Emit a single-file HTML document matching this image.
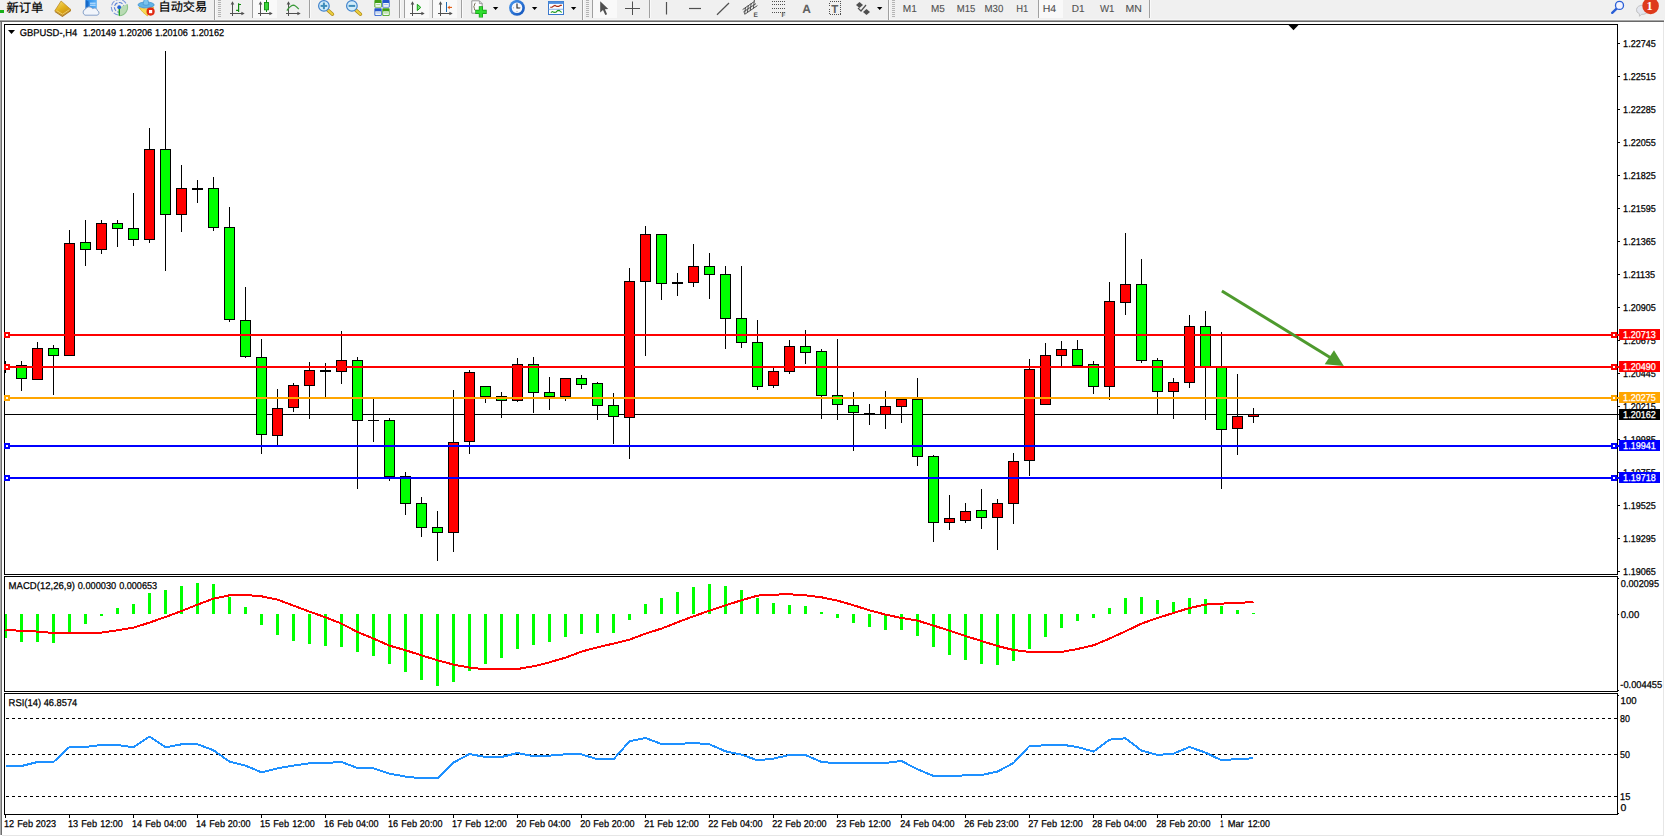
<!DOCTYPE html>
<html><head><meta charset="utf-8"><title>GBPUSD-,H4</title>
<style>
html,body{margin:0;padding:0;background:#fff;}
body{width:1665px;height:837px;overflow:hidden;position:relative;}
svg{display:block;position:absolute;left:0;top:0;font-family:"Liberation Sans", "Noto Sans CJK SC", sans-serif;text-rendering:geometricPrecision;}
svg text{white-space:pre;}
</style></head><body>
<svg width="1665" height="837" viewBox="0 0 1665 837" shape-rendering="crispEdges">
<rect x="0" y="0" width="1665" height="837" fill="#fff"/>
<rect x="0" y="0" width="1665" height="20" fill="#f0f0f0"/>
<rect x="0" y="19" width="1664" height="1" fill="#f6f6f6"/>
<rect x="0" y="20" width="1664" height="1" fill="#a6a6a6"/>
<rect x="0" y="21" width="1664" height="1" fill="#696969"/>
<rect x="0" y="22" width="1" height="813" fill="#aaaaaa"/>
<rect x="1" y="22" width="1" height="813" fill="#6e6e6e"/>
<rect x="1663" y="22" width="1" height="814" fill="#e6e6e6"/>
<rect x="2" y="835" width="1662" height="1" fill="#e6e6e6"/>
<rect x="4" y="24" width="1614" height="1" fill="#000"/>
<rect x="4" y="574" width="1614" height="1" fill="#000"/>
<rect x="4" y="24" width="1" height="551" fill="#000"/>
<rect x="1617" y="24" width="1" height="551" fill="#000"/>
<rect x="4" y="576" width="1614" height="1" fill="#000"/>
<rect x="4" y="691" width="1614" height="1" fill="#000"/>
<rect x="4" y="576" width="1" height="116" fill="#000"/>
<rect x="1617" y="576" width="1" height="116" fill="#000"/>
<rect x="4" y="693" width="1614" height="1" fill="#000"/>
<rect x="4" y="814" width="1614" height="1" fill="#000"/>
<rect x="4" y="693" width="1" height="122" fill="#000"/>
<rect x="1617" y="693" width="1" height="122" fill="#000"/>
<polygon points="1288.5,25 1298.5,25 1293.5,30.2" fill="#000" shape-rendering="auto"/>
<rect x="5" y="414" width="1614" height="1" fill="#000"/>
<rect x="5" y="361" width="1" height="12" fill="#000"/>
<rect x="21" y="361" width="1" height="30" fill="#000"/>
<rect x="16" y="365" width="11" height="14" fill="#000"/>
<rect x="17" y="366" width="9" height="12" fill="#00ff00"/>
<rect x="37" y="342" width="1" height="38" fill="#000"/>
<rect x="32" y="348" width="11" height="32" fill="#000"/>
<rect x="33" y="349" width="9" height="30" fill="#ff0000"/>
<rect x="53" y="345" width="1" height="50" fill="#000"/>
<rect x="48" y="348" width="11" height="8" fill="#000"/>
<rect x="49" y="349" width="9" height="6" fill="#00ff00"/>
<rect x="69" y="230" width="1" height="126" fill="#000"/>
<rect x="64" y="243" width="11" height="113" fill="#000"/>
<rect x="65" y="244" width="9" height="111" fill="#ff0000"/>
<rect x="85" y="220" width="1" height="46" fill="#000"/>
<rect x="80" y="242" width="11" height="8" fill="#000"/>
<rect x="81" y="243" width="9" height="6" fill="#00ff00"/>
<rect x="101" y="220" width="1" height="34" fill="#000"/>
<rect x="96" y="223" width="11" height="27" fill="#000"/>
<rect x="97" y="224" width="9" height="25" fill="#ff0000"/>
<rect x="117" y="220" width="1" height="27" fill="#000"/>
<rect x="112" y="223" width="11" height="6" fill="#000"/>
<rect x="113" y="224" width="9" height="4" fill="#00ff00"/>
<rect x="133" y="193" width="1" height="53" fill="#000"/>
<rect x="128" y="228" width="11" height="12" fill="#000"/>
<rect x="129" y="229" width="9" height="10" fill="#00ff00"/>
<rect x="149" y="128" width="1" height="115" fill="#000"/>
<rect x="144" y="149" width="11" height="91" fill="#000"/>
<rect x="145" y="150" width="9" height="89" fill="#ff0000"/>
<rect x="165" y="51" width="1" height="220" fill="#000"/>
<rect x="160" y="149" width="11" height="66" fill="#000"/>
<rect x="161" y="150" width="9" height="64" fill="#00ff00"/>
<rect x="181" y="165" width="1" height="67" fill="#000"/>
<rect x="176" y="188" width="11" height="27" fill="#000"/>
<rect x="177" y="189" width="9" height="25" fill="#ff0000"/>
<rect x="197" y="180" width="1" height="23" fill="#000"/>
<rect x="192" y="188" width="11" height="2" fill="#000"/>
<rect x="213" y="177" width="1" height="54" fill="#000"/>
<rect x="208" y="188" width="11" height="40" fill="#000"/>
<rect x="209" y="189" width="9" height="38" fill="#00ff00"/>
<rect x="229" y="207" width="1" height="115" fill="#000"/>
<rect x="224" y="227" width="11" height="93" fill="#000"/>
<rect x="225" y="228" width="9" height="91" fill="#00ff00"/>
<rect x="245" y="287" width="1" height="71" fill="#000"/>
<rect x="240" y="320" width="11" height="37" fill="#000"/>
<rect x="241" y="321" width="9" height="35" fill="#00ff00"/>
<rect x="261" y="339" width="1" height="115" fill="#000"/>
<rect x="256" y="357" width="11" height="78" fill="#000"/>
<rect x="257" y="358" width="9" height="76" fill="#00ff00"/>
<rect x="277" y="389" width="1" height="57" fill="#000"/>
<rect x="272" y="408" width="11" height="28" fill="#000"/>
<rect x="273" y="409" width="9" height="26" fill="#ff0000"/>
<rect x="293" y="383" width="1" height="29" fill="#000"/>
<rect x="288" y="385" width="11" height="23" fill="#000"/>
<rect x="289" y="386" width="9" height="21" fill="#ff0000"/>
<rect x="309" y="362" width="1" height="57" fill="#000"/>
<rect x="304" y="370" width="11" height="16" fill="#000"/>
<rect x="305" y="371" width="9" height="14" fill="#ff0000"/>
<rect x="325" y="363" width="1" height="34" fill="#000"/>
<rect x="320" y="370" width="11" height="2" fill="#000"/>
<rect x="341" y="331" width="1" height="53" fill="#000"/>
<rect x="336" y="360" width="11" height="12" fill="#000"/>
<rect x="337" y="361" width="9" height="10" fill="#ff0000"/>
<rect x="357" y="357" width="1" height="132" fill="#000"/>
<rect x="352" y="360" width="11" height="61" fill="#000"/>
<rect x="353" y="361" width="9" height="59" fill="#00ff00"/>
<rect x="373" y="398" width="1" height="44" fill="#000"/>
<rect x="368" y="420" width="11" height="1" fill="#000"/>
<rect x="389" y="418" width="1" height="63" fill="#000"/>
<rect x="384" y="420" width="11" height="57" fill="#000"/>
<rect x="385" y="421" width="9" height="55" fill="#00ff00"/>
<rect x="405" y="472" width="1" height="43" fill="#000"/>
<rect x="400" y="476" width="11" height="28" fill="#000"/>
<rect x="401" y="477" width="9" height="26" fill="#00ff00"/>
<rect x="421" y="497" width="1" height="40" fill="#000"/>
<rect x="416" y="503" width="11" height="25" fill="#000"/>
<rect x="417" y="504" width="9" height="23" fill="#00ff00"/>
<rect x="437" y="511" width="1" height="50" fill="#000"/>
<rect x="432" y="527" width="11" height="6" fill="#000"/>
<rect x="433" y="528" width="9" height="4" fill="#00ff00"/>
<rect x="453" y="390" width="1" height="162" fill="#000"/>
<rect x="448" y="442" width="11" height="91" fill="#000"/>
<rect x="449" y="443" width="9" height="89" fill="#ff0000"/>
<rect x="469" y="370" width="1" height="84" fill="#000"/>
<rect x="464" y="372" width="11" height="70" fill="#000"/>
<rect x="465" y="373" width="9" height="68" fill="#ff0000"/>
<rect x="485" y="386" width="1" height="17" fill="#000"/>
<rect x="480" y="386" width="11" height="11" fill="#000"/>
<rect x="481" y="387" width="9" height="9" fill="#00ff00"/>
<rect x="501" y="392" width="1" height="26" fill="#000"/>
<rect x="496" y="396" width="11" height="5" fill="#000"/>
<rect x="497" y="397" width="9" height="3" fill="#00ff00"/>
<rect x="517" y="358" width="1" height="44" fill="#000"/>
<rect x="512" y="364" width="11" height="37" fill="#000"/>
<rect x="513" y="365" width="9" height="35" fill="#ff0000"/>
<rect x="533" y="357" width="1" height="56" fill="#000"/>
<rect x="528" y="364" width="11" height="29" fill="#000"/>
<rect x="529" y="365" width="9" height="27" fill="#00ff00"/>
<rect x="549" y="377" width="1" height="33" fill="#000"/>
<rect x="544" y="392" width="11" height="5" fill="#000"/>
<rect x="545" y="393" width="9" height="3" fill="#00ff00"/>
<rect x="565" y="378" width="1" height="23" fill="#000"/>
<rect x="560" y="378" width="11" height="19" fill="#000"/>
<rect x="561" y="379" width="9" height="17" fill="#ff0000"/>
<rect x="581" y="375" width="1" height="14" fill="#000"/>
<rect x="576" y="378" width="11" height="7" fill="#000"/>
<rect x="577" y="379" width="9" height="5" fill="#00ff00"/>
<rect x="597" y="382" width="1" height="38" fill="#000"/>
<rect x="592" y="383" width="11" height="23" fill="#000"/>
<rect x="593" y="384" width="9" height="21" fill="#00ff00"/>
<rect x="613" y="393" width="1" height="51" fill="#000"/>
<rect x="608" y="405" width="11" height="12" fill="#000"/>
<rect x="609" y="406" width="9" height="10" fill="#00ff00"/>
<rect x="629" y="268" width="1" height="191" fill="#000"/>
<rect x="624" y="281" width="11" height="137" fill="#000"/>
<rect x="625" y="282" width="9" height="135" fill="#ff0000"/>
<rect x="645" y="226" width="1" height="130" fill="#000"/>
<rect x="640" y="234" width="11" height="48" fill="#000"/>
<rect x="641" y="235" width="9" height="46" fill="#ff0000"/>
<rect x="661" y="234" width="1" height="66" fill="#000"/>
<rect x="656" y="234" width="11" height="50" fill="#000"/>
<rect x="657" y="235" width="9" height="48" fill="#00ff00"/>
<rect x="677" y="273" width="1" height="23" fill="#000"/>
<rect x="672" y="282" width="11" height="2" fill="#000"/>
<rect x="693" y="244" width="1" height="43" fill="#000"/>
<rect x="688" y="266" width="11" height="17" fill="#000"/>
<rect x="689" y="267" width="9" height="15" fill="#ff0000"/>
<rect x="709" y="253" width="1" height="46" fill="#000"/>
<rect x="704" y="266" width="11" height="9" fill="#000"/>
<rect x="705" y="267" width="9" height="7" fill="#00ff00"/>
<rect x="725" y="266" width="1" height="83" fill="#000"/>
<rect x="720" y="274" width="11" height="45" fill="#000"/>
<rect x="721" y="275" width="9" height="43" fill="#00ff00"/>
<rect x="741" y="266" width="1" height="82" fill="#000"/>
<rect x="736" y="318" width="11" height="25" fill="#000"/>
<rect x="737" y="319" width="9" height="23" fill="#00ff00"/>
<rect x="757" y="320" width="1" height="70" fill="#000"/>
<rect x="752" y="342" width="11" height="45" fill="#000"/>
<rect x="753" y="343" width="9" height="43" fill="#00ff00"/>
<rect x="773" y="368" width="1" height="20" fill="#000"/>
<rect x="768" y="371" width="11" height="15" fill="#000"/>
<rect x="769" y="372" width="9" height="13" fill="#ff0000"/>
<rect x="789" y="340" width="1" height="34" fill="#000"/>
<rect x="784" y="346" width="11" height="26" fill="#000"/>
<rect x="785" y="347" width="9" height="24" fill="#ff0000"/>
<rect x="805" y="330" width="1" height="34" fill="#000"/>
<rect x="800" y="346" width="11" height="7" fill="#000"/>
<rect x="801" y="347" width="9" height="5" fill="#00ff00"/>
<rect x="821" y="349" width="1" height="70" fill="#000"/>
<rect x="816" y="351" width="11" height="45" fill="#000"/>
<rect x="817" y="352" width="9" height="43" fill="#00ff00"/>
<rect x="837" y="339" width="1" height="81" fill="#000"/>
<rect x="832" y="395" width="11" height="10" fill="#000"/>
<rect x="833" y="396" width="9" height="8" fill="#00ff00"/>
<rect x="853" y="392" width="1" height="59" fill="#000"/>
<rect x="848" y="405" width="11" height="8" fill="#000"/>
<rect x="849" y="406" width="9" height="6" fill="#00ff00"/>
<rect x="869" y="404" width="1" height="21" fill="#000"/>
<rect x="864" y="413" width="11" height="1" fill="#000"/>
<rect x="885" y="391" width="1" height="38" fill="#000"/>
<rect x="880" y="406" width="11" height="9" fill="#000"/>
<rect x="881" y="407" width="9" height="7" fill="#ff0000"/>
<rect x="901" y="398" width="1" height="25" fill="#000"/>
<rect x="896" y="399" width="11" height="8" fill="#000"/>
<rect x="897" y="400" width="9" height="6" fill="#ff0000"/>
<rect x="917" y="378" width="1" height="88" fill="#000"/>
<rect x="912" y="399" width="11" height="58" fill="#000"/>
<rect x="913" y="400" width="9" height="56" fill="#00ff00"/>
<rect x="933" y="455" width="1" height="87" fill="#000"/>
<rect x="928" y="456" width="11" height="67" fill="#000"/>
<rect x="929" y="457" width="9" height="65" fill="#00ff00"/>
<rect x="949" y="495" width="1" height="35" fill="#000"/>
<rect x="944" y="518" width="11" height="5" fill="#000"/>
<rect x="945" y="519" width="9" height="3" fill="#ff0000"/>
<rect x="965" y="503" width="1" height="20" fill="#000"/>
<rect x="960" y="511" width="11" height="10" fill="#000"/>
<rect x="961" y="512" width="9" height="8" fill="#ff0000"/>
<rect x="981" y="489" width="1" height="40" fill="#000"/>
<rect x="976" y="510" width="11" height="8" fill="#000"/>
<rect x="977" y="511" width="9" height="6" fill="#00ff00"/>
<rect x="997" y="499" width="1" height="51" fill="#000"/>
<rect x="992" y="503" width="11" height="15" fill="#000"/>
<rect x="993" y="504" width="9" height="13" fill="#ff0000"/>
<rect x="1013" y="453" width="1" height="71" fill="#000"/>
<rect x="1008" y="461" width="11" height="43" fill="#000"/>
<rect x="1009" y="462" width="9" height="41" fill="#ff0000"/>
<rect x="1029" y="359" width="1" height="117" fill="#000"/>
<rect x="1024" y="369" width="11" height="92" fill="#000"/>
<rect x="1025" y="370" width="9" height="90" fill="#ff0000"/>
<rect x="1045" y="343" width="1" height="62" fill="#000"/>
<rect x="1040" y="355" width="11" height="50" fill="#000"/>
<rect x="1041" y="356" width="9" height="48" fill="#ff0000"/>
<rect x="1061" y="341" width="1" height="25" fill="#000"/>
<rect x="1056" y="349" width="11" height="7" fill="#000"/>
<rect x="1057" y="350" width="9" height="5" fill="#ff0000"/>
<rect x="1077" y="340" width="1" height="26" fill="#000"/>
<rect x="1072" y="349" width="11" height="17" fill="#000"/>
<rect x="1073" y="350" width="9" height="15" fill="#00ff00"/>
<rect x="1093" y="361" width="1" height="33" fill="#000"/>
<rect x="1088" y="364" width="11" height="23" fill="#000"/>
<rect x="1089" y="365" width="9" height="21" fill="#00ff00"/>
<rect x="1109" y="282" width="1" height="118" fill="#000"/>
<rect x="1104" y="301" width="11" height="86" fill="#000"/>
<rect x="1105" y="302" width="9" height="84" fill="#ff0000"/>
<rect x="1125" y="233" width="1" height="82" fill="#000"/>
<rect x="1120" y="284" width="11" height="19" fill="#000"/>
<rect x="1121" y="285" width="9" height="17" fill="#ff0000"/>
<rect x="1141" y="259" width="1" height="104" fill="#000"/>
<rect x="1136" y="284" width="11" height="77" fill="#000"/>
<rect x="1137" y="285" width="9" height="75" fill="#00ff00"/>
<rect x="1157" y="358" width="1" height="56" fill="#000"/>
<rect x="1152" y="360" width="11" height="32" fill="#000"/>
<rect x="1153" y="361" width="9" height="30" fill="#00ff00"/>
<rect x="1173" y="378" width="1" height="41" fill="#000"/>
<rect x="1168" y="382" width="11" height="10" fill="#000"/>
<rect x="1169" y="383" width="9" height="8" fill="#ff0000"/>
<rect x="1189" y="315" width="1" height="73" fill="#000"/>
<rect x="1184" y="326" width="11" height="57" fill="#000"/>
<rect x="1185" y="327" width="9" height="55" fill="#ff0000"/>
<rect x="1205" y="311" width="1" height="109" fill="#000"/>
<rect x="1200" y="326" width="11" height="41" fill="#000"/>
<rect x="1201" y="327" width="9" height="39" fill="#00ff00"/>
<rect x="1221" y="332" width="1" height="157" fill="#000"/>
<rect x="1216" y="367" width="11" height="63" fill="#000"/>
<rect x="1217" y="368" width="9" height="61" fill="#00ff00"/>
<rect x="1237" y="374" width="1" height="81" fill="#000"/>
<rect x="1232" y="416" width="11" height="13" fill="#000"/>
<rect x="1233" y="417" width="9" height="11" fill="#ff0000"/>
<rect x="1253" y="408" width="1" height="15" fill="#000"/>
<rect x="1248" y="414" width="11" height="3" fill="#000"/>
<rect x="1249" y="415" width="9" height="1" fill="#ff0000"/>
<rect x="4" y="334" width="1615" height="2" fill="#ff0000"/>
<rect x="4" y="332" width="6" height="6" fill="#ff0000"/>
<rect x="6" y="334" width="2" height="2" fill="#fff"/>
<rect x="1611" y="332" width="6" height="6" fill="#ff0000"/>
<rect x="1613" y="334" width="2" height="2" fill="#fff"/>
<rect x="4" y="366" width="1615" height="2" fill="#ff0000"/>
<rect x="4" y="364" width="6" height="6" fill="#ff0000"/>
<rect x="6" y="366" width="2" height="2" fill="#fff"/>
<rect x="1611" y="364" width="6" height="6" fill="#ff0000"/>
<rect x="1613" y="366" width="2" height="2" fill="#fff"/>
<rect x="4" y="397" width="1615" height="2" fill="#ffa500"/>
<rect x="4" y="395" width="6" height="6" fill="#ffa500"/>
<rect x="6" y="397" width="2" height="2" fill="#fff"/>
<rect x="1611" y="395" width="6" height="6" fill="#ffa500"/>
<rect x="1613" y="397" width="2" height="2" fill="#fff"/>
<rect x="4" y="445" width="1615" height="2" fill="#0000ff"/>
<rect x="4" y="443" width="6" height="6" fill="#0000ff"/>
<rect x="6" y="445" width="2" height="2" fill="#fff"/>
<rect x="1611" y="443" width="6" height="6" fill="#0000ff"/>
<rect x="1613" y="445" width="2" height="2" fill="#fff"/>
<rect x="4" y="477" width="1615" height="2" fill="#0000ff"/>
<rect x="4" y="475" width="6" height="6" fill="#0000ff"/>
<rect x="6" y="477" width="2" height="2" fill="#fff"/>
<rect x="1611" y="475" width="6" height="6" fill="#0000ff"/>
<rect x="1613" y="477" width="2" height="2" fill="#fff"/>
<g shape-rendering="auto"><line x1="1221.9" y1="291" x2="1331" y2="358" stroke="#4e9a2e" stroke-width="3"/><polygon points="1343.8,365.9 1324.7,364.2 1334,350.3" fill="#4e9a2e"/></g>
<rect x="1618" y="43" width="2" height="1" fill="#000"/>
<text transform="translate(1623.11,47) scale(0.916,1)" fill="#000" stroke="#000" stroke-width="0.25" font-size="9.9">1.22745</text>
<rect x="1618" y="76" width="2" height="1" fill="#000"/>
<text transform="translate(1623.11,80) scale(0.916,1)" fill="#000" stroke="#000" stroke-width="0.25" font-size="9.9">1.22515</text>
<rect x="1618" y="109" width="2" height="1" fill="#000"/>
<text transform="translate(1623.11,113) scale(0.916,1)" fill="#000" stroke="#000" stroke-width="0.25" font-size="9.9">1.22285</text>
<rect x="1618" y="142" width="2" height="1" fill="#000"/>
<text transform="translate(1623.11,146) scale(0.916,1)" fill="#000" stroke="#000" stroke-width="0.25" font-size="9.9">1.22055</text>
<rect x="1618" y="175" width="2" height="1" fill="#000"/>
<text transform="translate(1623.11,179) scale(0.916,1)" fill="#000" stroke="#000" stroke-width="0.25" font-size="9.9">1.21825</text>
<rect x="1618" y="208" width="2" height="1" fill="#000"/>
<text transform="translate(1623.11,212) scale(0.916,1)" fill="#000" stroke="#000" stroke-width="0.25" font-size="9.9">1.21595</text>
<rect x="1618" y="241" width="2" height="1" fill="#000"/>
<text transform="translate(1623.11,245) scale(0.916,1)" fill="#000" stroke="#000" stroke-width="0.25" font-size="9.9">1.21365</text>
<rect x="1618" y="274" width="2" height="1" fill="#000"/>
<text transform="translate(1623.11,278) scale(0.916,1)" fill="#000" stroke="#000" stroke-width="0.25" font-size="9.9">1.21135</text>
<rect x="1618" y="307" width="2" height="1" fill="#000"/>
<text transform="translate(1623.11,311) scale(0.916,1)" fill="#000" stroke="#000" stroke-width="0.25" font-size="9.9">1.20905</text>
<rect x="1618" y="340" width="2" height="1" fill="#000"/>
<text transform="translate(1623.11,344) scale(0.916,1)" fill="#000" stroke="#000" stroke-width="0.25" font-size="9.9">1.20675</text>
<rect x="1618" y="373" width="2" height="1" fill="#000"/>
<text transform="translate(1623.11,377) scale(0.916,1)" fill="#000" stroke="#000" stroke-width="0.25" font-size="9.9">1.20445</text>
<rect x="1618" y="406" width="2" height="1" fill="#000"/>
<text transform="translate(1623.11,410) scale(0.916,1)" fill="#000" stroke="#000" stroke-width="0.25" font-size="9.9">1.20215</text>
<rect x="1618" y="439" width="2" height="1" fill="#000"/>
<text transform="translate(1623.11,443) scale(0.916,1)" fill="#000" stroke="#000" stroke-width="0.25" font-size="9.9">1.19985</text>
<rect x="1618" y="472" width="2" height="1" fill="#000"/>
<text transform="translate(1623.11,476) scale(0.916,1)" fill="#000" stroke="#000" stroke-width="0.25" font-size="9.9">1.19755</text>
<rect x="1618" y="505" width="2" height="1" fill="#000"/>
<text transform="translate(1623.11,509) scale(0.916,1)" fill="#000" stroke="#000" stroke-width="0.25" font-size="9.9">1.19525</text>
<rect x="1618" y="538" width="2" height="1" fill="#000"/>
<text transform="translate(1623.11,542) scale(0.916,1)" fill="#000" stroke="#000" stroke-width="0.25" font-size="9.9">1.19295</text>
<rect x="1618" y="571" width="2" height="1" fill="#000"/>
<text transform="translate(1623.11,575) scale(0.916,1)" fill="#000" stroke="#000" stroke-width="0.25" font-size="9.9">1.19065</text>
<rect x="1619" y="329" width="41" height="11" fill="#ff0000"/>
<text transform="translate(1623.11,338) scale(0.916,1)" fill="#fff" stroke="#fff" stroke-width="0.25" font-size="9.9">1.20713</text>
<rect x="1619" y="361" width="41" height="11" fill="#ff0000"/>
<text transform="translate(1623.11,370) scale(0.915,1)" fill="#fff" stroke="#fff" stroke-width="0.25" font-size="9.9">1.20490</text>
<rect x="1619" y="392" width="41" height="11" fill="#ffa500"/>
<text transform="translate(1623.11,401) scale(0.916,1)" fill="#fff" stroke="#fff" stroke-width="0.25" font-size="9.9">1.20275</text>
<rect x="1619" y="440" width="41" height="11" fill="#0000ff"/>
<text transform="translate(1623.11,449) scale(0.918,1)" fill="#fff" stroke="#fff" stroke-width="0.25" font-size="9.9">1.19941</text>
<rect x="1619" y="472" width="41" height="11" fill="#0000ff"/>
<text transform="translate(1623.11,481) scale(0.916,1)" fill="#fff" stroke="#fff" stroke-width="0.25" font-size="9.9">1.19718</text>
<rect x="1619" y="409" width="41" height="11" fill="#000"/>
<text transform="translate(1623.11,418) scale(0.918,1)" fill="#fff" stroke="#fff" stroke-width="0.25" font-size="9.9">1.20162</text>
<rect x="5" y="614" width="2" height="24" fill="#00ff00"/>
<rect x="20" y="614" width="3" height="28" fill="#00ff00"/>
<rect x="36" y="614" width="3" height="28" fill="#00ff00"/>
<rect x="52" y="614" width="3" height="29" fill="#00ff00"/>
<rect x="68" y="614" width="3" height="19" fill="#00ff00"/>
<rect x="84" y="614" width="3" height="10" fill="#00ff00"/>
<rect x="100" y="614" width="3" height="2" fill="#00ff00"/>
<rect x="116" y="608" width="3" height="6" fill="#00ff00"/>
<rect x="132" y="604" width="3" height="10" fill="#00ff00"/>
<rect x="148" y="593" width="3" height="21" fill="#00ff00"/>
<rect x="164" y="590" width="3" height="24" fill="#00ff00"/>
<rect x="180" y="586" width="3" height="28" fill="#00ff00"/>
<rect x="196" y="583" width="3" height="31" fill="#00ff00"/>
<rect x="212" y="584" width="3" height="30" fill="#00ff00"/>
<rect x="228" y="597" width="3" height="17" fill="#00ff00"/>
<rect x="244" y="607" width="3" height="7" fill="#00ff00"/>
<rect x="260" y="614" width="3" height="11" fill="#00ff00"/>
<rect x="276" y="614" width="3" height="21" fill="#00ff00"/>
<rect x="292" y="614" width="3" height="27" fill="#00ff00"/>
<rect x="308" y="614" width="3" height="30" fill="#00ff00"/>
<rect x="324" y="614" width="3" height="32" fill="#00ff00"/>
<rect x="340" y="614" width="3" height="33" fill="#00ff00"/>
<rect x="356" y="614" width="3" height="38" fill="#00ff00"/>
<rect x="372" y="614" width="3" height="42" fill="#00ff00"/>
<rect x="388" y="614" width="3" height="50" fill="#00ff00"/>
<rect x="404" y="614" width="3" height="58" fill="#00ff00"/>
<rect x="420" y="614" width="3" height="66" fill="#00ff00"/>
<rect x="436" y="614" width="3" height="72" fill="#00ff00"/>
<rect x="452" y="614" width="3" height="68" fill="#00ff00"/>
<rect x="468" y="614" width="3" height="57" fill="#00ff00"/>
<rect x="484" y="614" width="3" height="50" fill="#00ff00"/>
<rect x="500" y="614" width="3" height="44" fill="#00ff00"/>
<rect x="516" y="614" width="3" height="35" fill="#00ff00"/>
<rect x="532" y="614" width="3" height="31" fill="#00ff00"/>
<rect x="548" y="614" width="3" height="28" fill="#00ff00"/>
<rect x="564" y="614" width="3" height="23" fill="#00ff00"/>
<rect x="580" y="614" width="3" height="20" fill="#00ff00"/>
<rect x="596" y="614" width="3" height="19" fill="#00ff00"/>
<rect x="612" y="614" width="3" height="19" fill="#00ff00"/>
<rect x="628" y="614" width="3" height="6" fill="#00ff00"/>
<rect x="644" y="604" width="3" height="10" fill="#00ff00"/>
<rect x="660" y="598" width="3" height="16" fill="#00ff00"/>
<rect x="676" y="592" width="3" height="22" fill="#00ff00"/>
<rect x="692" y="587" width="3" height="27" fill="#00ff00"/>
<rect x="708" y="584" width="3" height="30" fill="#00ff00"/>
<rect x="724" y="586" width="3" height="28" fill="#00ff00"/>
<rect x="740" y="590" width="3" height="24" fill="#00ff00"/>
<rect x="756" y="598" width="3" height="16" fill="#00ff00"/>
<rect x="772" y="603" width="3" height="11" fill="#00ff00"/>
<rect x="788" y="605" width="3" height="9" fill="#00ff00"/>
<rect x="804" y="606" width="3" height="8" fill="#00ff00"/>
<rect x="820" y="612" width="3" height="2" fill="#00ff00"/>
<rect x="836" y="614" width="3" height="4" fill="#00ff00"/>
<rect x="852" y="614" width="3" height="9" fill="#00ff00"/>
<rect x="868" y="614" width="3" height="13" fill="#00ff00"/>
<rect x="884" y="614" width="3" height="16" fill="#00ff00"/>
<rect x="900" y="614" width="3" height="16" fill="#00ff00"/>
<rect x="916" y="614" width="3" height="22" fill="#00ff00"/>
<rect x="932" y="614" width="3" height="33" fill="#00ff00"/>
<rect x="948" y="614" width="3" height="41" fill="#00ff00"/>
<rect x="964" y="614" width="3" height="46" fill="#00ff00"/>
<rect x="980" y="614" width="3" height="50" fill="#00ff00"/>
<rect x="996" y="614" width="3" height="51" fill="#00ff00"/>
<rect x="1012" y="614" width="3" height="47" fill="#00ff00"/>
<rect x="1028" y="614" width="3" height="35" fill="#00ff00"/>
<rect x="1044" y="614" width="3" height="23" fill="#00ff00"/>
<rect x="1060" y="614" width="3" height="14" fill="#00ff00"/>
<rect x="1076" y="614" width="3" height="7" fill="#00ff00"/>
<rect x="1092" y="614" width="3" height="4" fill="#00ff00"/>
<rect x="1108" y="608" width="3" height="6" fill="#00ff00"/>
<rect x="1124" y="598" width="3" height="16" fill="#00ff00"/>
<rect x="1140" y="597" width="3" height="17" fill="#00ff00"/>
<rect x="1156" y="600" width="3" height="14" fill="#00ff00"/>
<rect x="1172" y="602" width="3" height="12" fill="#00ff00"/>
<rect x="1188" y="598" width="3" height="16" fill="#00ff00"/>
<rect x="1204" y="599" width="3" height="15" fill="#00ff00"/>
<rect x="1220" y="606" width="3" height="8" fill="#00ff00"/>
<rect x="1236" y="610" width="3" height="4" fill="#00ff00"/>
<rect x="1252" y="613" width="3" height="1" fill="#00ff00"/>
<polyline points="5.5,630.3 21.5,630.6 37.5,631.6 53.5,633.0 69.5,633.0 85.5,633.0 101.5,632.6 117.5,630.3 133.5,627.6 149.5,622.6 165.5,617.0 181.5,611.0 197.5,604.6 213.5,598.6 229.5,595.3 245.5,595.0 261.5,596.3 277.5,599.6 293.5,605.6 309.5,611.6 325.5,617.3 341.5,623.6 357.5,632.0 373.5,638.6 389.5,645.6 405.5,650.3 421.5,655.3 437.5,660.3 453.5,664.6 469.5,667.6 485.5,669.3 501.5,669.3 517.5,669.0 533.5,666.3 549.5,662.3 565.5,657.6 581.5,651.6 597.5,647.3 613.5,643.6 629.5,639.6 645.5,633.6 661.5,628.6 677.5,622.3 693.5,616.3 709.5,610.6 725.5,605.3 741.5,600.3 757.5,595.6 773.5,594.6 789.5,594.3 805.5,595.3 821.5,597.3 837.5,600.6 853.5,605.3 869.5,610.3 885.5,614.6 901.5,618.0 917.5,620.6 933.5,625.6 949.5,630.6 965.5,636.0 981.5,641.0 997.5,646.0 1013.5,650.0 1029.5,652.0 1045.5,652.3 1061.5,652.0 1077.5,649.0 1093.5,645.3 1109.5,638.6 1125.5,631.3 1141.5,623.6 1157.5,618.0 1173.5,613.0 1189.5,608.0 1205.5,604.6 1221.5,603.6 1237.5,603.0 1253.5,602.0" fill="none" stroke="#ff0000" stroke-width="2" stroke-linejoin="round" shape-rendering="crispEdges"/>
<rect x="1618" y="578" width="1" height="1" fill="#000"/>
<rect x="1618" y="690" width="1" height="1" fill="#000"/>
<rect x="1618" y="695" width="1" height="1" fill="#000"/>
<rect x="1618" y="813" width="1" height="1" fill="#000"/>
<rect x="1618" y="614" width="1" height="1" fill="#000"/>
<text transform="translate(1620.84,587) scale(0.926,1)" fill="#000" stroke="#000" stroke-width="0.25" font-size="9.9">0.002095</text>
<text transform="translate(1620.63,618) scale(0.968,1)" fill="#000" stroke="#000" stroke-width="0.25" font-size="9.9">0.00</text>
<text transform="translate(1620.29,688) scale(0.942,1)" fill="#000" stroke="#000" stroke-width="0.25" font-size="9.9">-0.004455</text>
<line x1="6" y1="718.5" x2="1617" y2="718.5" stroke="#000" stroke-width="1" stroke-dasharray="3 3"/>
<line x1="6" y1="754.5" x2="1617" y2="754.5" stroke="#000" stroke-width="1" stroke-dasharray="3 3"/>
<line x1="6" y1="796.5" x2="1617" y2="796.5" stroke="#000" stroke-width="1" stroke-dasharray="3 3"/>
<polyline points="5.5,766.0 21.5,766.0 37.5,762.0 53.5,762.0 69.5,747.0 85.5,747.0 101.5,745.0 117.5,745.0 133.5,747.3 149.5,736.6 165.5,747.3 181.5,744.3 197.5,744.3 213.5,750.3 229.5,761.6 245.5,765.6 261.5,772.3 277.5,768.3 293.5,765.6 309.5,763.3 325.5,763.0 341.5,762.0 357.5,768.0 373.5,768.3 389.5,773.6 405.5,776.6 421.5,778.3 437.5,778.3 453.5,762.6 469.5,754.0 485.5,757.0 501.5,757.0 517.5,753.0 533.5,756.3 549.5,755.6 565.5,754.3 581.5,754.3 597.5,759.3 613.5,759.3 629.5,741.3 645.5,738.0 661.5,744.0 677.5,744.0 693.5,743.0 709.5,744.3 725.5,751.3 741.5,754.6 757.5,760.3 773.5,758.6 789.5,755.0 805.5,755.0 821.5,762.0 837.5,763.3 853.5,763.3 869.5,763.3 885.5,763.0 901.5,761.0 917.5,769.3 933.5,776.0 949.5,776.3 965.5,775.3 981.5,775.0 997.5,771.6 1013.5,763.0 1029.5,746.0 1045.5,745.3 1061.5,744.6 1077.5,747.0 1093.5,751.6 1109.5,739.6 1125.5,738.3 1141.5,750.6 1157.5,755.0 1173.5,753.6 1189.5,747.0 1205.5,752.6 1221.5,760.3 1237.5,759.0 1253.5,758.3" fill="none" stroke="#1e90ff" stroke-width="2" stroke-linejoin="round" shape-rendering="crispEdges"/>
<text transform="translate(1620.57,704) scale(0.969,1)" fill="#000" stroke="#000" stroke-width="0.25" font-size="9.9">100</text>
<text transform="translate(1620.01,722) scale(0.902,1)" fill="#000" stroke="#000" stroke-width="0.25" font-size="9.9">80</text>
<text transform="translate(1620.04,758) scale(0.899,1)" fill="#000" stroke="#000" stroke-width="0.25" font-size="9.9">50</text>
<text transform="translate(1620.00,800) scale(0.935,1)" fill="#000" stroke="#000" stroke-width="0.25" font-size="9.9">15</text>
<text transform="translate(1620.59,811) scale(1.057,1)" fill="#000" stroke="#000" stroke-width="0.25" font-size="9.9">0</text>
<text transform="translate(19.73,36) scale(0.951,1)" fill="#000" stroke="#000" stroke-width="0.25" font-size="9.9">GBPUSD-,H4</text>
<text transform="translate(82.90,36) scale(0.929,1)" fill="#000" stroke="#000" stroke-width="0.25" font-size="9.9">1.20149</text>
<text transform="translate(119.00,36) scale(0.931,1)" fill="#000" stroke="#000" stroke-width="0.25" font-size="9.9">1.20206</text>
<text transform="translate(154.90,36) scale(0.922,1)" fill="#000" stroke="#000" stroke-width="0.25" font-size="9.9">1.20106</text>
<text transform="translate(191.00,36) scale(0.927,1)" fill="#000" stroke="#000" stroke-width="0.25" font-size="9.9">1.20162</text>
<polygon points="8,30 15,30 11.5,34" fill="#000" shape-rendering="auto"/>
<text transform="translate(8.61,589) scale(0.968,1)" fill="#000" stroke="#000" stroke-width="0.25" font-size="9.9">MACD(12,26,9)</text>
<text transform="translate(77.74,589) scale(0.933,1)" fill="#000" stroke="#000" stroke-width="0.25" font-size="9.9">0.000030</text>
<text transform="translate(119.14,589) scale(0.922,1)" fill="#000" stroke="#000" stroke-width="0.25" font-size="9.9">0.000653</text>
<text transform="translate(8.62,706) scale(0.956,1)" fill="#000" stroke="#000" stroke-width="0.25" font-size="9.9">RSI(14)</text>
<text transform="translate(43.69,706) scale(0.941,1)" fill="#000" stroke="#000" stroke-width="0.25" font-size="9.9">46.8574</text>
<rect x="5" y="815" width="1" height="3" fill="#000"/>
<text transform="translate(3.90,827) scale(0.924,1)" fill="#000" stroke="#000" stroke-width="0.25" font-size="9.9">12</text>
<text transform="translate(17.25,827) scale(0.922,1)" fill="#000" stroke="#000" stroke-width="0.25" font-size="9.9">Feb</text>
<text transform="translate(35.84,827) scale(0.914,1)" fill="#000" stroke="#000" stroke-width="0.25" font-size="9.9">2023</text>
<rect x="69" y="815" width="1" height="3" fill="#000"/>
<text transform="translate(67.90,827) scale(0.924,1)" fill="#000" stroke="#000" stroke-width="0.25" font-size="9.9">13</text>
<text transform="translate(81.25,827) scale(0.922,1)" fill="#000" stroke="#000" stroke-width="0.25" font-size="9.9">Feb</text>
<text transform="translate(100.21,827) scale(0.914,1)" fill="#000" stroke="#000" stroke-width="0.25" font-size="9.9">12:00</text>
<rect x="133" y="815" width="1" height="3" fill="#000"/>
<text transform="translate(131.90,827) scale(0.924,1)" fill="#000" stroke="#000" stroke-width="0.25" font-size="9.9">14</text>
<text transform="translate(145.25,827) scale(0.922,1)" fill="#000" stroke="#000" stroke-width="0.25" font-size="9.9">Feb</text>
<text transform="translate(163.95,827) scale(0.914,1)" fill="#000" stroke="#000" stroke-width="0.25" font-size="9.9">04:00</text>
<rect x="197" y="815" width="1" height="3" fill="#000"/>
<text transform="translate(195.90,827) scale(0.924,1)" fill="#000" stroke="#000" stroke-width="0.25" font-size="9.9">14</text>
<text transform="translate(209.25,827) scale(0.922,1)" fill="#000" stroke="#000" stroke-width="0.25" font-size="9.9">Feb</text>
<text transform="translate(227.84,827) scale(0.914,1)" fill="#000" stroke="#000" stroke-width="0.25" font-size="9.9">20:00</text>
<rect x="261" y="815" width="1" height="3" fill="#000"/>
<text transform="translate(259.90,827) scale(0.924,1)" fill="#000" stroke="#000" stroke-width="0.25" font-size="9.9">15</text>
<text transform="translate(273.25,827) scale(0.922,1)" fill="#000" stroke="#000" stroke-width="0.25" font-size="9.9">Feb</text>
<text transform="translate(292.21,827) scale(0.914,1)" fill="#000" stroke="#000" stroke-width="0.25" font-size="9.9">12:00</text>
<rect x="325" y="815" width="1" height="3" fill="#000"/>
<text transform="translate(323.90,827) scale(0.924,1)" fill="#000" stroke="#000" stroke-width="0.25" font-size="9.9">16</text>
<text transform="translate(337.25,827) scale(0.922,1)" fill="#000" stroke="#000" stroke-width="0.25" font-size="9.9">Feb</text>
<text transform="translate(355.95,827) scale(0.914,1)" fill="#000" stroke="#000" stroke-width="0.25" font-size="9.9">04:00</text>
<rect x="389" y="815" width="1" height="3" fill="#000"/>
<text transform="translate(387.90,827) scale(0.924,1)" fill="#000" stroke="#000" stroke-width="0.25" font-size="9.9">16</text>
<text transform="translate(401.25,827) scale(0.922,1)" fill="#000" stroke="#000" stroke-width="0.25" font-size="9.9">Feb</text>
<text transform="translate(419.84,827) scale(0.914,1)" fill="#000" stroke="#000" stroke-width="0.25" font-size="9.9">20:00</text>
<rect x="453" y="815" width="1" height="3" fill="#000"/>
<text transform="translate(451.90,827) scale(0.924,1)" fill="#000" stroke="#000" stroke-width="0.25" font-size="9.9">17</text>
<text transform="translate(465.25,827) scale(0.922,1)" fill="#000" stroke="#000" stroke-width="0.25" font-size="9.9">Feb</text>
<text transform="translate(484.21,827) scale(0.914,1)" fill="#000" stroke="#000" stroke-width="0.25" font-size="9.9">12:00</text>
<rect x="517" y="815" width="1" height="3" fill="#000"/>
<text transform="translate(516.14,827) scale(0.924,1)" fill="#000" stroke="#000" stroke-width="0.25" font-size="9.9">20</text>
<text transform="translate(529.25,827) scale(0.922,1)" fill="#000" stroke="#000" stroke-width="0.25" font-size="9.9">Feb</text>
<text transform="translate(547.95,827) scale(0.914,1)" fill="#000" stroke="#000" stroke-width="0.25" font-size="9.9">04:00</text>
<rect x="581" y="815" width="1" height="3" fill="#000"/>
<text transform="translate(580.14,827) scale(0.924,1)" fill="#000" stroke="#000" stroke-width="0.25" font-size="9.9">20</text>
<text transform="translate(593.25,827) scale(0.922,1)" fill="#000" stroke="#000" stroke-width="0.25" font-size="9.9">Feb</text>
<text transform="translate(611.84,827) scale(0.914,1)" fill="#000" stroke="#000" stroke-width="0.25" font-size="9.9">20:00</text>
<rect x="645" y="815" width="1" height="3" fill="#000"/>
<text transform="translate(644.14,827) scale(0.924,1)" fill="#000" stroke="#000" stroke-width="0.25" font-size="9.9">21</text>
<text transform="translate(657.25,827) scale(0.922,1)" fill="#000" stroke="#000" stroke-width="0.25" font-size="9.9">Feb</text>
<text transform="translate(676.21,827) scale(0.914,1)" fill="#000" stroke="#000" stroke-width="0.25" font-size="9.9">12:00</text>
<rect x="709" y="815" width="1" height="3" fill="#000"/>
<text transform="translate(708.14,827) scale(0.924,1)" fill="#000" stroke="#000" stroke-width="0.25" font-size="9.9">22</text>
<text transform="translate(721.25,827) scale(0.922,1)" fill="#000" stroke="#000" stroke-width="0.25" font-size="9.9">Feb</text>
<text transform="translate(739.95,827) scale(0.914,1)" fill="#000" stroke="#000" stroke-width="0.25" font-size="9.9">04:00</text>
<rect x="773" y="815" width="1" height="3" fill="#000"/>
<text transform="translate(772.14,827) scale(0.924,1)" fill="#000" stroke="#000" stroke-width="0.25" font-size="9.9">22</text>
<text transform="translate(785.25,827) scale(0.922,1)" fill="#000" stroke="#000" stroke-width="0.25" font-size="9.9">Feb</text>
<text transform="translate(803.84,827) scale(0.914,1)" fill="#000" stroke="#000" stroke-width="0.25" font-size="9.9">20:00</text>
<rect x="837" y="815" width="1" height="3" fill="#000"/>
<text transform="translate(836.14,827) scale(0.924,1)" fill="#000" stroke="#000" stroke-width="0.25" font-size="9.9">23</text>
<text transform="translate(849.25,827) scale(0.922,1)" fill="#000" stroke="#000" stroke-width="0.25" font-size="9.9">Feb</text>
<text transform="translate(868.21,827) scale(0.914,1)" fill="#000" stroke="#000" stroke-width="0.25" font-size="9.9">12:00</text>
<rect x="901" y="815" width="1" height="3" fill="#000"/>
<text transform="translate(900.14,827) scale(0.924,1)" fill="#000" stroke="#000" stroke-width="0.25" font-size="9.9">24</text>
<text transform="translate(913.25,827) scale(0.922,1)" fill="#000" stroke="#000" stroke-width="0.25" font-size="9.9">Feb</text>
<text transform="translate(931.95,827) scale(0.914,1)" fill="#000" stroke="#000" stroke-width="0.25" font-size="9.9">04:00</text>
<rect x="965" y="815" width="1" height="3" fill="#000"/>
<text transform="translate(964.14,827) scale(0.924,1)" fill="#000" stroke="#000" stroke-width="0.25" font-size="9.9">26</text>
<text transform="translate(977.25,827) scale(0.922,1)" fill="#000" stroke="#000" stroke-width="0.25" font-size="9.9">Feb</text>
<text transform="translate(995.84,827) scale(0.914,1)" fill="#000" stroke="#000" stroke-width="0.25" font-size="9.9">23:00</text>
<rect x="1029" y="815" width="1" height="3" fill="#000"/>
<text transform="translate(1028.14,827) scale(0.924,1)" fill="#000" stroke="#000" stroke-width="0.25" font-size="9.9">27</text>
<text transform="translate(1041.25,827) scale(0.922,1)" fill="#000" stroke="#000" stroke-width="0.25" font-size="9.9">Feb</text>
<text transform="translate(1060.21,827) scale(0.914,1)" fill="#000" stroke="#000" stroke-width="0.25" font-size="9.9">12:00</text>
<rect x="1093" y="815" width="1" height="3" fill="#000"/>
<text transform="translate(1092.14,827) scale(0.924,1)" fill="#000" stroke="#000" stroke-width="0.25" font-size="9.9">28</text>
<text transform="translate(1105.25,827) scale(0.922,1)" fill="#000" stroke="#000" stroke-width="0.25" font-size="9.9">Feb</text>
<text transform="translate(1123.95,827) scale(0.914,1)" fill="#000" stroke="#000" stroke-width="0.25" font-size="9.9">04:00</text>
<rect x="1157" y="815" width="1" height="3" fill="#000"/>
<text transform="translate(1156.14,827) scale(0.924,1)" fill="#000" stroke="#000" stroke-width="0.25" font-size="9.9">28</text>
<text transform="translate(1169.25,827) scale(0.922,1)" fill="#000" stroke="#000" stroke-width="0.25" font-size="9.9">Feb</text>
<text transform="translate(1187.84,827) scale(0.914,1)" fill="#000" stroke="#000" stroke-width="0.25" font-size="9.9">20:00</text>
<rect x="1221" y="815" width="1" height="3" fill="#000"/>
<text transform="translate(1220.24,827) scale(0.609,1)" fill="#000" stroke="#000" stroke-width="0.25" font-size="9.9">1</text>
<text transform="translate(1227.83,827) scale(0.946,1)" fill="#000" stroke="#000" stroke-width="0.25" font-size="9.9">Mar</text>
<text transform="translate(1247.72,827) scale(0.897,1)" fill="#000" stroke="#000" stroke-width="0.25" font-size="9.9">12:00</text>
<g shape-rendering="auto">
<rect x="0" y="10" width="4" height="3" fill="#18b018"/>
<text x="6.5" y="11.5" font-size="12.3" fill="#000" stroke="#000" stroke-width="0.2">新订单</text>
<defs><linearGradient id="gb" x1="0" y1="0" x2="0.6" y2="1"><stop offset="0" stop-color="#f7e27a"/><stop offset="0.55" stop-color="#e2b11c"/><stop offset="1" stop-color="#c98d12"/></linearGradient><linearGradient id="pc" x1="0" y1="0" x2="1" y2="0"><stop offset="0" stop-color="#1f86ea"/><stop offset="1" stop-color="#5fb2f6"/></linearGradient></defs>
<polygon points="54.8,10.9 62.4,15.7 71,9.8 71,11 62.4,17 54.8,12.1" fill="#a8741a"/>
<polygon points="54.8,10.8 61.1,1 71,9.7 62.4,15.6" fill="url(#gb)" stroke="#b8821a" stroke-width="0.7"/>
<path d="M56.5,10.6 L62.6,14.2 L69.4,9.7" stroke="#f3d97a" stroke-width="0.8" fill="none"/>
<path d="M85.6,0 H96.8 V8.8 H85.6 Z" fill="url(#pc)"/>
<path d="M85.6,0 L88.6,1.6 V8.8 H85.6 Z" fill="#1669c8"/>
<path d="M90,3.2 H95.6 M90,5.2 H95.6" stroke="#d6ecff" stroke-width="1"/>
<path d="M85,15.2 a3.2,3.2 0 0 1 0.4,-6 a4,3.6 0 0 1 7.2,-0.6 a3.2,3 0 0 1 5,2.2 a2.3,2.3 0 0 1 -0.6,4.4 z" fill="#f1f5fb" stroke="#7b98c4" stroke-width="0.9"/>
<circle cx="119.2" cy="7.3" r="7.8" fill="none" stroke="#7d9bdc" stroke-width="1.1" stroke-dasharray="5 1.6"/>
<circle cx="119.2" cy="7.3" r="4.8" fill="none" stroke="#5f86d8" stroke-width="1.2" stroke-dasharray="4 1.4"/>
<path d="M119.2,7.3 V15.7 A8.4,8.4 0 0 0 127,4.3 Z" fill="#b9dbb4"/>
<path d="M119.2,15.7 A8.4,8.4 0 0 0 127,4.3" fill="none" stroke="#8cc48a" stroke-width="1.1"/>
<path d="M119.3,7.6 V15.7" stroke="#1fa01f" stroke-width="1.4"/>
<circle cx="119.2" cy="7.2" r="1.9" fill="#2462d4"/>
<path d="M138.9,7.6 Q146,10.4 153.8,7.2 L147.4,15.9 Q143,13 138.9,7.6 Z" fill="#f6dc52" stroke="#d9a820" stroke-width="0.7"/>
<ellipse cx="146.1" cy="4.9" rx="8.1" ry="2.9" fill="#62b4e6" stroke="#3c8ccc" stroke-width="0.7"/>
<path d="M143,4.6 Q143.6,-1.5 145.9,-2 Q148.3,-1.5 149,4.6 Q146,6 143,4.6 Z" fill="#7cc4ee" stroke="#3c8ccc" stroke-width="0.6"/>
<circle cx="150.6" cy="11.6" r="4.1" fill="#e02a12"/>
<rect x="149" y="10" width="3.2" height="3.2" fill="#fff"/>
<text x="158.6" y="11.3" font-size="12.15" fill="#000" stroke="#000" stroke-width="0.2">自动交易</text>
<rect x="214" y="0" width="1" height="20" fill="#a0a0a0" shape-rendering="crispEdges"/>
<rect x="215" y="0" width="1" height="20" fill="#fafafa" shape-rendering="crispEdges"/>
<rect x="218" y="0" width="3" height="1" fill="#b4b4b4" shape-rendering="crispEdges"/>
<rect x="218" y="2" width="3" height="1" fill="#b4b4b4" shape-rendering="crispEdges"/>
<rect x="218" y="4" width="3" height="1" fill="#b4b4b4" shape-rendering="crispEdges"/>
<rect x="218" y="6" width="3" height="1" fill="#b4b4b4" shape-rendering="crispEdges"/>
<rect x="218" y="8" width="3" height="1" fill="#b4b4b4" shape-rendering="crispEdges"/>
<rect x="218" y="10" width="3" height="1" fill="#b4b4b4" shape-rendering="crispEdges"/>
<rect x="218" y="12" width="3" height="1" fill="#b4b4b4" shape-rendering="crispEdges"/>
<rect x="218" y="14" width="3" height="1" fill="#b4b4b4" shape-rendering="crispEdges"/>
<rect x="218" y="16" width="3" height="1" fill="#b4b4b4" shape-rendering="crispEdges"/>
<rect x="232" y="3" width="1" height="13" fill="#505050" shape-rendering="crispEdges"/>
<rect x="230" y="13" width="13" height="1" fill="#505050" shape-rendering="crispEdges"/>
<polygon points="232.5,1.3 230.7,4.6 234.3,4.6" fill="#505050"/>
<polygon points="244.7,13.5 241.4,11.7 241.4,15.3" fill="#505050"/>
<path d="M238.6,3.3 V11.9 M238.6,4.5 H241 M236.1,10.4 H238.6" stroke="#108a10" stroke-width="1.2" fill="none"/>
<rect x="252" y="0" width="1" height="18" fill="#a0a0a0" shape-rendering="crispEdges"/>
<rect x="253" y="0" width="1" height="18" fill="#fafafa" shape-rendering="crispEdges"/>
<rect x="253" y="0" width="24" height="18" fill="#f9f9f9" shape-rendering="crispEdges"/>
<rect x="260" y="3" width="1" height="13" fill="#505050" shape-rendering="crispEdges"/>
<rect x="258" y="13" width="13" height="1" fill="#505050" shape-rendering="crispEdges"/>
<polygon points="260.5,1.3 258.7,4.6 262.3,4.6" fill="#505050"/>
<polygon points="272.7,13.5 269.4,11.7 269.4,15.3" fill="#505050"/>
<rect x="264.5" y="2.5" width="4" height="7.3" fill="#3ad63a" stroke="#0f8a0f" stroke-width="0.9"/>
<path d="M266.5,0 V2.5 M266.5,10 V12" stroke="#0f8a0f" stroke-width="1"/>
<rect x="288" y="3" width="1" height="13" fill="#505050" shape-rendering="crispEdges"/>
<rect x="286" y="13" width="13" height="1" fill="#505050" shape-rendering="crispEdges"/>
<polygon points="288.5,1.3 286.7,4.6 290.3,4.6" fill="#505050"/>
<polygon points="300.7,13.5 297.4,11.7 297.4,15.3" fill="#505050"/>
<path d="M286.9,10.6 Q290.3,5.6 293.2,5.2 Q295.5,5.4 298.8,9.2" stroke="#3a9a3a" stroke-width="1.2" fill="none"/>
<rect x="309" y="0" width="1" height="18" fill="#a0a0a0" shape-rendering="crispEdges"/>
<rect x="310" y="0" width="1" height="18" fill="#fafafa" shape-rendering="crispEdges"/>
<path d="M327.79999999999995,10.1 L332.5,14.2" stroke="#b08a18" stroke-width="3.4" stroke-linecap="round"/>
<path d="M327.79999999999995,10.1 L332.5,14.2" stroke="#ecd040" stroke-width="2" stroke-linecap="round"/>
<circle cx="323.9" cy="5.9" r="5.3" fill="#d2ecfa" stroke="#3f82cc" stroke-width="1.2"/>
<path d="M320.59999999999997,5.9 H327.2" stroke="#3d8cba" stroke-width="2"/>
<path d="M323.9,2.6 V9.2" stroke="#3d8cba" stroke-width="2"/>
<path d="M355.79999999999995,10.1 L360.5,14.2" stroke="#b08a18" stroke-width="3.4" stroke-linecap="round"/>
<path d="M355.79999999999995,10.1 L360.5,14.2" stroke="#ecd040" stroke-width="2" stroke-linecap="round"/>
<circle cx="351.9" cy="5.9" r="5.3" fill="#d2ecfa" stroke="#3f82cc" stroke-width="1.2"/>
<path d="M348.59999999999997,5.9 H355.2" stroke="#3d8cba" stroke-width="2"/>
<rect x="374.4" y="0" width="7.3" height="7.6" rx="0.8" fill="#3f9e14"/>
<rect x="375.29999999999995" y="3" width="5.6" height="3.9" fill="#f4f8f4"/>
<rect x="376.2" y="4.2" width="3.8" height="0.9" fill="#8fd070"/>
<rect x="382.3" y="0" width="7.3" height="7.6" rx="0.8" fill="#2456cc"/>
<rect x="383.2" y="3" width="5.6" height="3.9" fill="#f4f8f4"/>
<rect x="384.1" y="4.2" width="3.8" height="0.9" fill="#9ab4f0"/>
<rect x="374.4" y="8.3" width="7.3" height="7.6" rx="0.8" fill="#2456cc"/>
<rect x="375.29999999999995" y="11.3" width="5.6" height="3.9" fill="#f4f8f4"/>
<rect x="376.2" y="12.5" width="3.8" height="0.9" fill="#9ab4f0"/>
<rect x="382.3" y="8.3" width="7.3" height="7.6" rx="0.8" fill="#3f9e14"/>
<rect x="383.2" y="11.3" width="5.6" height="3.9" fill="#f4f8f4"/>
<rect x="384.1" y="12.5" width="3.8" height="0.9" fill="#8fd070"/>
<rect x="399" y="0" width="1" height="18" fill="#a0a0a0" shape-rendering="crispEdges"/>
<rect x="400" y="0" width="1" height="18" fill="#fafafa" shape-rendering="crispEdges"/>
<rect x="404" y="0" width="1" height="18" fill="#a0a0a0" shape-rendering="crispEdges"/>
<rect x="405" y="0" width="1" height="18" fill="#fafafa" shape-rendering="crispEdges"/>
<rect x="405" y="0" width="24" height="18" fill="#f9f9f9" shape-rendering="crispEdges"/>
<rect x="412" y="3" width="1" height="13" fill="#505050" shape-rendering="crispEdges"/>
<rect x="410" y="13" width="13" height="1" fill="#505050" shape-rendering="crispEdges"/>
<polygon points="412.5,1.3 410.7,4.6 414.3,4.6" fill="#505050"/>
<polygon points="424.7,13.5 421.4,11.7 421.4,15.3" fill="#505050"/>
<polygon points="417.3,4.3 417.3,10.6 420.8,7.4" fill="#7be07b" stroke="#12a012" stroke-width="1"/>
<rect x="432" y="0" width="1" height="18" fill="#a0a0a0" shape-rendering="crispEdges"/>
<rect x="433" y="0" width="1" height="18" fill="#fafafa" shape-rendering="crispEdges"/>
<rect x="433" y="0" width="24" height="18" fill="#f9f9f9" shape-rendering="crispEdges"/>
<rect x="440" y="3" width="1" height="13" fill="#505050" shape-rendering="crispEdges"/>
<rect x="438" y="13" width="13" height="1" fill="#505050" shape-rendering="crispEdges"/>
<polygon points="440.5,1.3 438.7,4.6 442.3,4.6" fill="#505050"/>
<polygon points="452.7,13.5 449.4,11.7 449.4,15.3" fill="#505050"/>
<rect x="446" y="2" width="1" height="10" fill="#1a6ab0" shape-rendering="crispEdges"/>
<path d="M452,7.4 H448.4" stroke="#e05a10" stroke-width="1.1" fill="none"/>
<polygon points="447.4,7.4 450,5.4 449.4,7.4 450,9.4" fill="#e05a10"/>
<rect x="461" y="0" width="1" height="18" fill="#a0a0a0" shape-rendering="crispEdges"/>
<rect x="462" y="0" width="1" height="18" fill="#fafafa" shape-rendering="crispEdges"/>
<path d="M471.8,0.8 H479.4 L482.2,3.6 V13.2 H471.8 Z" fill="#fbfbfb" stroke="#8c8c8c" stroke-width="0.9"/>
<path d="M479.4,0.8 V3.6 H482.2" fill="none" stroke="#8c8c8c" stroke-width="0.8"/>
<path d="M475.6,3.2 Q474.2,3.2 474.4,5.4 Q474.4,6.6 473.6,6.8 Q474.4,7 474.4,8.4 Q474.2,10.4 475.6,10.4" stroke="#5a5030" stroke-width="0.8" fill="none"/>
<path d="M480.9,6.3 V17.6 M475.3,11.9 H486.7" stroke="#109a10" stroke-width="4.2"/>
<path d="M480.9,7 V16.9 M476,11.9 H486" stroke="#2fdc2f" stroke-width="2.8"/>
<polygon points="492.9,7 498.29999999999995,7 495.59999999999997,9.9" fill="#000"/>
<defs><linearGradient id="ck" x1="0" y1="0" x2="1" y2="1"><stop offset="0" stop-color="#4a9af0"/><stop offset="1" stop-color="#0f4fb8"/></linearGradient></defs>
<circle cx="517" cy="7.8" r="7.9" fill="url(#ck)"/>
<circle cx="517" cy="7.8" r="5.3" fill="#f6f8fc"/>
<path d="M517,3.6 V8 H519.9" stroke="#202020" stroke-width="1.1" fill="none"/>
<path d="M517,11.2 V12 M513,7.8 H513.8 M520.4,7.8 H521" stroke="#808080" stroke-width="0.8"/>
<polygon points="531.9,7 537.3,7 534.6,9.9" fill="#000"/>
<rect x="548.5" y="1.5" width="15" height="13" fill="#fdfeff" stroke="#3b78cc" stroke-width="1"/>
<rect x="548.5" y="1.5" width="15" height="2.4" fill="#4d8fe0"/>
<rect x="548.5" y="8.8" width="15" height="0.8" fill="#6f9fe0"/>
<path d="M550.2,7.2 L552,7.2 L553.6,6 L555,5.4 L556.8,6.4 L558.6,6.4 L560.4,5.4 L561.8,5.4" stroke="#a82810" stroke-width="1.1" fill="none"/>
<path d="M550.8,12.4 L552.6,11.6 L554,12.4 L556,12.2 L557.6,10.6 L559.2,10.4 L560.6,11.6 L561.8,12.4" stroke="#1c9a1c" stroke-width="1.1" fill="none"/>
<polygon points="570.9,7 576.3,7 573.6,9.9" fill="#000"/>
<rect x="582" y="0" width="1" height="20" fill="#a0a0a0" shape-rendering="crispEdges"/>
<rect x="583" y="0" width="1" height="20" fill="#fafafa" shape-rendering="crispEdges"/>
<rect x="586" y="0" width="3" height="1" fill="#b4b4b4" shape-rendering="crispEdges"/>
<rect x="586" y="2" width="3" height="1" fill="#b4b4b4" shape-rendering="crispEdges"/>
<rect x="586" y="4" width="3" height="1" fill="#b4b4b4" shape-rendering="crispEdges"/>
<rect x="586" y="6" width="3" height="1" fill="#b4b4b4" shape-rendering="crispEdges"/>
<rect x="586" y="8" width="3" height="1" fill="#b4b4b4" shape-rendering="crispEdges"/>
<rect x="586" y="10" width="3" height="1" fill="#b4b4b4" shape-rendering="crispEdges"/>
<rect x="586" y="12" width="3" height="1" fill="#b4b4b4" shape-rendering="crispEdges"/>
<rect x="586" y="14" width="3" height="1" fill="#b4b4b4" shape-rendering="crispEdges"/>
<rect x="586" y="16" width="3" height="1" fill="#b4b4b4" shape-rendering="crispEdges"/>
<rect x="592" y="0" width="1" height="18" fill="#a0a0a0" shape-rendering="crispEdges"/>
<rect x="593" y="0" width="1" height="18" fill="#fafafa" shape-rendering="crispEdges"/>
<rect x="593" y="0" width="24" height="18" fill="#f9f9f9" shape-rendering="crispEdges"/>
<polygon points="600.2,1.2 600.2,12.4 603,9.9 605.3,15 607.1,14.2 604.9,9.2 608.3,8.9" fill="#505050"/>
<path d="M632.5,1.5 V15 M625,8.5 H640" stroke="#505050" stroke-width="1"/>
<rect x="649" y="0" width="1" height="18" fill="#a0a0a0" shape-rendering="crispEdges"/>
<rect x="650" y="0" width="1" height="18" fill="#fafafa" shape-rendering="crispEdges"/>
<path d="M666.5,2 V14.5" stroke="#505050" stroke-width="1.2"/>
<path d="M689,8.5 H701" stroke="#505050" stroke-width="1.2"/>
<path d="M717,14.8 L729,3" stroke="#505050" stroke-width="1.2"/>
<path d="M742.6,9.6 L754.2,1.6 M743.4,12 L756,3.6 M744.6,14.4 L757.4,5.6 M745.6,7 L744.6,14 M748.4,5 L747.4,12.4 M751.2,3.2 L750.2,10.6 M754.4,0 L753.4,8.4" stroke="#505050" stroke-width="1" fill="none"/>
<text x="753.5" y="17" font-size="6.5" font-weight="bold" fill="#505050">E</text>
<path d="M772,1.5 H785" stroke="#505050" stroke-width="1" stroke-dasharray="1 1"/>
<path d="M772,4.5 H785" stroke="#505050" stroke-width="1" stroke-dasharray="1 1"/>
<path d="M772,8.5 H785" stroke="#505050" stroke-width="1" stroke-dasharray="1 1"/>
<path d="M772,12.5 H785" stroke="#505050" stroke-width="1" stroke-dasharray="1 1"/>
<text x="781.5" y="17" font-size="6.5" font-weight="bold" fill="#505050">F</text>
<text x="802.3" y="12.6" font-size="12" font-weight="bold" fill="#606060">A</text>
<rect x="829.5" y="1.5" width="11" height="13" fill="none" stroke="#505050" stroke-width="1" stroke-dasharray="1 1" shape-rendering="crispEdges"/>
<text x="831.3" y="12.6" font-size="11.5" font-weight="bold" fill="#606060">T</text>
<polygon points="859.5,2 863,5 859.5,8 856,5" fill="#505050"/>
<polygon points="866.5,9 870,12 866.5,15 863,12" fill="#505050"/>
<path d="M858,8 L861,11 L866,5" stroke="#505050" stroke-width="1.2" fill="none"/>
<polygon points="877,7 882.4,7 879.7,9.9" fill="#000"/>
<rect x="888" y="0" width="1" height="20" fill="#a0a0a0" shape-rendering="crispEdges"/>
<rect x="889" y="0" width="1" height="20" fill="#fafafa" shape-rendering="crispEdges"/>
<rect x="892" y="0" width="3" height="1" fill="#b4b4b4" shape-rendering="crispEdges"/>
<rect x="892" y="2" width="3" height="1" fill="#b4b4b4" shape-rendering="crispEdges"/>
<rect x="892" y="4" width="3" height="1" fill="#b4b4b4" shape-rendering="crispEdges"/>
<rect x="892" y="6" width="3" height="1" fill="#b4b4b4" shape-rendering="crispEdges"/>
<rect x="892" y="8" width="3" height="1" fill="#b4b4b4" shape-rendering="crispEdges"/>
<rect x="892" y="10" width="3" height="1" fill="#b4b4b4" shape-rendering="crispEdges"/>
<rect x="892" y="12" width="3" height="1" fill="#b4b4b4" shape-rendering="crispEdges"/>
<rect x="892" y="14" width="3" height="1" fill="#b4b4b4" shape-rendering="crispEdges"/>
<rect x="892" y="16" width="3" height="1" fill="#b4b4b4" shape-rendering="crispEdges"/>
<rect x="1039" y="0" width="24" height="18" fill="#f9f9f9" shape-rendering="crispEdges"/>
<rect x="1038" y="0" width="1" height="18" fill="#a0a0a0" shape-rendering="crispEdges"/>
<rect x="1039" y="0" width="1" height="18" fill="#fafafa" shape-rendering="crispEdges"/>
<text transform="translate(902.87,11.9) scale(0.990,1)" fill="#505050" stroke="#505050" stroke-width="0.1" font-size="10.2">M1</text>
<text transform="translate(930.98,11.9) scale(0.976,1)" fill="#505050" stroke="#505050" stroke-width="0.1" font-size="10.2">M5</text>
<text transform="translate(956.82,11.9) scale(0.937,1)" fill="#505050" stroke="#505050" stroke-width="0.1" font-size="10.2">M15</text>
<text transform="translate(984.50,11.9) scale(0.951,1)" fill="#505050" stroke="#505050" stroke-width="0.1" font-size="10.2">M30</text>
<text transform="translate(1016.23,11.9) scale(0.923,1)" fill="#505050" stroke="#505050" stroke-width="0.1" font-size="10.2">H1</text>
<text transform="translate(1042.64,11.9) scale(1.033,1)" fill="#505050" stroke="#505050" stroke-width="0.1" font-size="10.2">H4</text>
<text transform="translate(1071.68,11.9) scale(0.983,1)" fill="#505050" stroke="#505050" stroke-width="0.1" font-size="10.2">D1</text>
<text transform="translate(1099.96,11.9) scale(0.949,1)" fill="#505050" stroke="#505050" stroke-width="0.1" font-size="10.2">W1</text>
<text transform="translate(1125.54,11.9) scale(1.029,1)" fill="#505050" stroke="#505050" stroke-width="0.1" font-size="10.2">MN</text>
<rect x="1149" y="0" width="1" height="18" fill="#a0a0a0" shape-rendering="crispEdges"/>
<rect x="1150" y="0" width="1" height="18" fill="#fafafa" shape-rendering="crispEdges"/>
<path d="M1616.6,8.6 L1612.2,12.8" stroke="#2a5fd6" stroke-width="2.4" stroke-linecap="round"/>
<circle cx="1619.5" cy="5.4" r="4" fill="#f4f4ff" stroke="#2a5fd6" stroke-width="1.3"/>
<path d="M1636.5,9.5 a6,4.6 0 1 1 5,4.8 l-2,2 l-0.2,-2.6 a5,4 0 0 1 -2.8,-4.2 z" fill="#e4e6ee" stroke="#b8b8b8" stroke-width="0.8"/>
<circle cx="1650.6" cy="5.9" r="8.3" fill="#de3a1c"/>
<text x="1649.6" y="9.7" font-size="12.3" font-weight="bold" fill="#fff" text-anchor="middle" font-family="'Liberation Serif', serif">1</text>
</g>
</svg>
</body></html>
